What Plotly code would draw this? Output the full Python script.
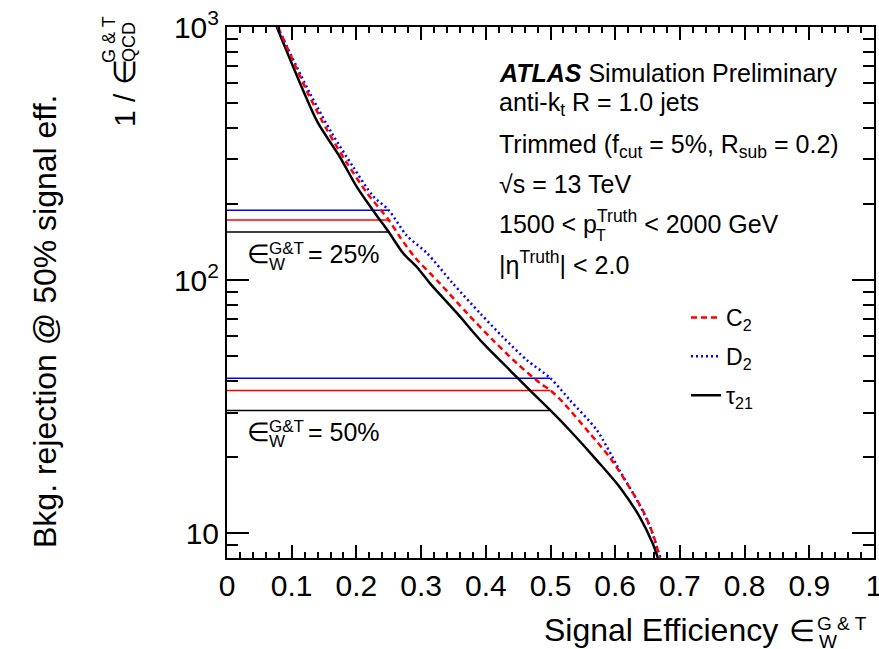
import numpy as np
import plotly.graph_objects as go

# ---------------- data ----------------
tau21_eff = [0.077, 0.1175, 0.1406, 0.1747, 0.2009, 0.2287, 0.25, 0.272, 0.2937, 0.3138,
             0.3555, 0.3957, 0.4374, 0.4683, 0.5, 0.530, 0.572, 0.6074, 0.638, 0.658, 0.666]
tau21_rej = [1000, 563, 418, 306, 233, 184, 155, 128, 112.5, 97.2,
             74.1, 56.4, 44.1, 36.7, 30.6, 25.5, 19.4, 15.2, 11.6, 9.12, 8.0]

c2_eff = [0.079, 0.125, 0.1546, 0.1855, 0.2164, 0.25, 0.2674, 0.2906, 0.329, 0.371,
          0.411, 0.448, 0.484, 0.5, 0.519, 0.561, 0.592, 0.618, 0.643, 0.658, 0.669]
c2_rej = [1000, 548, 392, 290, 221, 173, 148, 123, 97.2, 74.1,
          58, 47, 39.2, 36.7, 33, 24.8, 19.9, 15.8, 12.3, 10, 8.0]

d2_eff = [0.078, 0.128, 0.162, 0.195, 0.2257, 0.25, 0.278, 0.309, 0.349, 0.391,
          0.4266, 0.4637, 0.5, 0.530, 0.572, 0.607, 0.634, 0.654, 0.666, 0.670]
d2_rej = [1000, 548, 381, 280, 215, 189, 150, 128, 97.2, 74.1,
          59.6, 48.3, 41.0, 33.6, 25.5, 17.7, 13.5, 10.6, 8.57, 8.0]

# working points (signal efficiency) and rejection of each tagger there: tau21, C2, D2
wp_eff = [0.25, 0.5]
rej_wp25 = [155, 173, 189]
rej_wp50 = [30.6, 36.7, 41.0]

x_tickvals = [0, 0.1, 0.2, 0.3, 0.4, 0.5, 0.6, 0.7, 0.8, 0.9, 1.0]
x_ticktext = ["0", "0.1", "0.2", "0.3", "0.4", "0.5", "0.6", "0.7", "0.8", "0.9", "1"]
y_tickvals = [10, 100, 1000]
y_ticktext = ["10", "10<sup>2</sup>", "10<sup>3</sup>"]

# ---------------- figure ----------------
W, H = 879, 649
L, R, T, B = 227, 874, 27, 558
FONT = "Liberation Sans, Arial, Helvetica, sans-serif"


def px(xp):
    return (xp - L) / (R - L)


def py(yp):
    return (B - yp) / (B - T)


fig = go.Figure()

colors = ["black", "red", "blue"]
for i, (wp, vals) in enumerate(zip(wp_eff, [rej_wp25, rej_wp50])):
    for c, v in zip(colors, vals):
        fig.add_trace(go.Scatter(x=[0, wp], y=[v, v], mode="lines",
                                 line=dict(color=c, width=1.5), showlegend=False,
                                 hoverinfo="skip"))

fig.add_trace(go.Scatter(x=tau21_eff, y=tau21_rej, mode="lines", name="τ<sub>21</sub>",
                         line=dict(color="black", width=2.5, shape="spline", smoothing=0.8),
                         legendrank=3, legendgroup="t"))
fig.add_trace(go.Scatter(x=d2_eff, y=d2_rej, mode="lines", name="D<sub>2</sub>",
                         line=dict(color="blue", width=2.5, dash="2px,3px", shape="spline",
                                   smoothing=0.8),
                         legendrank=2, legendgroup="d"))
fig.add_trace(go.Scatter(x=c2_eff, y=c2_rej, mode="lines", name="C<sub>2</sub>",
                         line=dict(color="red", width=2.5, dash="6px,4px", shape="spline",
                                   smoothing=0.8),
                         legendrank=1, legendgroup="c"))

x_minor = [round(0.02 * k, 2) for k in range(51) if k % 5 != 0]
y_minor = [8, 9] + [m * 10 for m in range(2, 10)] + [m * 100 for m in range(2, 10)]

fig.update_xaxes(range=[0, 1], tickvals=x_tickvals, ticktext=x_ticktext,
                 ticks="inside", ticklen=13, tickwidth=1.5, tickcolor="black",
                 showline=True, linewidth=2, linecolor="black", mirror="ticks",
                 showgrid=False, zeroline=False, ticklabeloverflow="allow",
                 tickfont=dict(family=FONT, size=30, color="black"),
                 minor=dict(tickvals=x_minor, ticks="inside", ticklen=6, tickwidth=1.5,
                            tickcolor="black", showgrid=False))
fig.update_yaxes(type="log", range=[np.log10(8), 3], tickvals=y_tickvals, ticktext=y_ticktext,
                 ticks="inside", ticklen=22, tickwidth=1.5, tickcolor="black",
                 showline=True, linewidth=2, linecolor="black", mirror="ticks",
                 showgrid=False, zeroline=False, ticklabeloverflow="allow",
                 tickfont=dict(family=FONT, size=30, color="black"),
                 minor=dict(tickvals=y_minor, ticks="inside", ticklen=11, tickwidth=1.5,
                            tickcolor="black", showgrid=False))

ann = []


def text(x, y, s, size, xanchor="left", yanchor="middle", angle=0):
    ann.append(dict(xref="paper", yref="paper", x=px(x), y=py(y), text=s, showarrow=False,
                    xanchor=xanchor, yanchor=yanchor, textangle=angle,
                    font=dict(family=FONT, size=size, color="black")))


# info block
text(497, 73, "<b><i>ATLAS</i></b> Simulation Preliminary", 25)
text(497, 104, "anti-k<sub>t</sub> R = 1.0 jets", 25)
text(497, 146, "Trimmed (f<sub>cut</sub> = 5%, R<sub>sub</sub> = 0.2)", 25)
text(497, 184, "√s = 13 TeV", 25)
text(497, 222, "1500 < p<sup>Truth</sup> < 2000 GeV", 25)
text(594, 235, "T", 16)
text(497, 263, "|η<sup>Truth</sup>| < 2.0", 25)

# working point labels
for yc, lab in [(254, "= 25%"), (432, "= 50%")]:
    text(245, yc, "∈", 26)
    text(267, yc - 6, "G&T", 17)
    text(267, yc + 10, "W", 17)
    text(306, yc, lab, 25)

# x title
text(780, 630, "Signal Efficiency", 32, xanchor="right")
text(787, 630, "∈", 30)
text(815, 623, "G & T", 19)
text(817, 641, "W", 19)

# y title
text(45, 322, "Bkg. rejection @ 50% signal eff.", 32, xanchor="center", angle=-90)
text(125, 93, "1 / ∈", 30, xanchor="center", angle=-90)
text(109, 40, "G & T", 18, xanchor="center", angle=-90)
text(129, 42, "QCD", 18, xanchor="center", angle=-90)

fig.update_layout(
    width=W, height=H,
    margin=dict(l=L, r=W - R, t=T, b=H - B, autoexpand=False),
    paper_bgcolor="white", plot_bgcolor="white",
    font=dict(family=FONT, color="black"),
    annotations=ann,
    showlegend=True,
    legend=dict(x=px(686), y=py(296), xanchor="left", yanchor="top",
                bgcolor="rgba(0,0,0,0)", font=dict(family=FONT, size=23),
                tracegroupgap=6, itemwidth=30),
)

fig.write_html("out.html")
